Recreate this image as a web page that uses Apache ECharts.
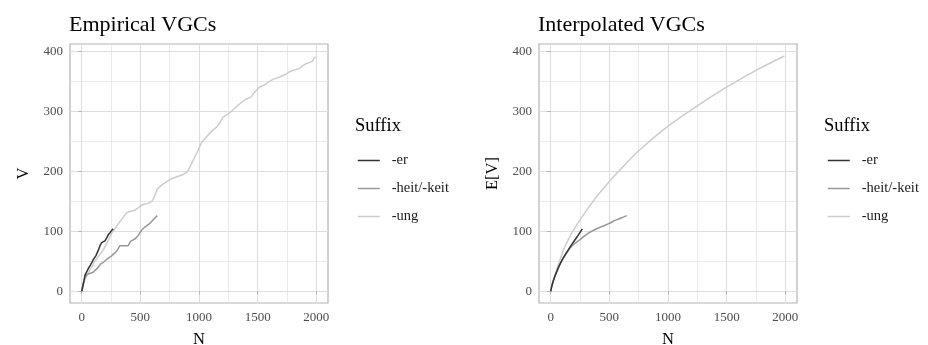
<!DOCTYPE html>
<html>
<head>
<meta charset="utf-8">
<script src="https://cdn.jsdelivr.net/npm/echarts@6/dist/echarts.min.js"></script>
<style>
	html, body { margin: 0; padding: 0; background: #fff; }
	#main { width: 928px; height: 345px; }
</style>
</head>
<body>
<div id="main"></div>
<script>
var suffixes = ['-er', '-heit/-keit', '-ung'];
var colors = ['#333333', '#989898', '#cccccc'];

// empirical growth curves [N, V]
var erEmpirical = [[0,0],[10,8],[20,18],[28,27],[40,30],[57,38],[75,44],[100,53],[120,59],[141,68],[158,77],[170,81],[184,82],[198,84],[213,89],[226,94],[243,98],[258,102],[269,104]];
var heitEmpirical = [[0,0],[15,15],[28,24],[45,28],[57,27],[75,30],[100,32],[120,36],[141,40],[159,45],[184,48],[212,53],[233,56],[255,59],[278,63],[298,67],[326,76],[350,76],[396,76],[416,83],[453,87],[482,93],[511,102],[538,107],[581,113],[609,119],[644,126]];
var ungEmpirical = [[0,0],[15,12],[28,20],[50,28],[71,36],[95,44],[113,50],[150,60],[184,69],[215,80],[241,91],[265,100],[290,106],[326,116],[356,124],[385,131],[410,133],[440,134],[470,137],[499,142],[530,145],[560,146],[600,150],[620,158],[642,169],[665,174],[690,178],[728,183],[771,188],[800,190],[830,192],[870,195],[900,199],[935,212],[960,222],[985,232],[1020,247],[1062,257],[1105,266],[1148,273],[1175,280],[1205,290],[1260,297],[1300,304],[1345,312],[1400,320],[1445,324],[1470,331],[1515,340],[1550,343],[1572,346],[1630,353],[1688,357],[1720,360],[1745,362],[1765,365],[1800,368],[1855,371],[1880,375],[1910,379],[1940,381],[1965,383],[1980,386],[1992,391]];

// interpolated expected vocabulary [N, E[V]]
var erInterpolated = [[0,0],[10,9],[25,19],[40,27],[65,39],[100,53],[140,66],[180,78],[222,90],[269,104]];
var heitInterpolated = [[0,0],[10,9],[23,18],[40,28],[65,40],[95,51],[122,60],[150,68],[179,75],[215,81],[250,86],[300,94],[349,100],[400,105],[463,110],[500,113],[548,118],[600,122],[648,126]];
var ungInterpolated = [[0,0],[10,10],[37,27],[80,53],[122,75],[179,97],[250,119],[321,139],[392,158],[500,183],[600,204],[750,234],[1000,275],[1250,309],[1500,340],[1750,368],[1992,392]];

var xMajor = [0, 500, 1000, 1500, 2000];
var xMinor = [250, 750, 1250, 1750];
var yMajor = [0, 100, 200, 300, 400];
var yMinor = [50, 150, 250, 350];

var font = 'Liberation Serif';
var xRange = [-100, 2100];
var yRange = [-19.6, 412];

function plain(v) { return String(v); }

function majorX(grid) {
	return {
		type: 'value', gridIndex: grid, min: xRange[0], max: xRange[1], position: 'bottom',
		name: 'N', nameLocation: 'middle', nameGap: 28,
		nameTextStyle: { fontFamily: font, fontSize: 16.5, color: '#000' },
		axisLine: { show: false },
		axisTick: { show: true, length: 3, customValues: xMajor, lineStyle: { color: '#b3b3b3', width: 1 } },
		axisLabel: { customValues: xMajor, margin: 8, formatter: plain, fontFamily: font, fontSize: 13, color: '#4d4d4d' },
		splitLine: { show: true, lineStyle: { color: '#dedede', width: 1.1 } }
	};
}
function minorX(grid) {
	return {
		type: 'value', gridIndex: grid, min: xRange[0], max: xRange[1], position: 'top',
		axisLine: { show: false }, axisLabel: { show: false },
		axisTick: { show: false, customValues: xMinor },
		splitLine: { show: true, lineStyle: { color: '#e3e3e3', width: 0.7 } }
	};
}
function majorY(grid, title) {
	return {
		type: 'value', gridIndex: grid, min: yRange[0], max: yRange[1], position: 'left',
		name: title, nameLocation: 'middle', nameGap: 38, nameRotate: 90,
		nameTextStyle: { fontFamily: font, fontSize: 16.5, color: '#000' },
		axisLine: { show: false },
		axisTick: { show: true, length: 3.5, customValues: yMajor, lineStyle: { color: '#b3b3b3', width: 1 } },
		axisLabel: { customValues: yMajor, margin: 7, formatter: plain, fontFamily: font, fontSize: 13, color: '#4d4d4d' },
		splitLine: { show: true, lineStyle: { color: '#dedede', width: 1.1 } }
	};
}
function minorY(grid) {
	return {
		type: 'value', gridIndex: grid, min: yRange[0], max: yRange[1], position: 'right',
		axisLine: { show: false }, axisLabel: { show: false },
		axisTick: { show: false, customValues: yMinor },
		splitLine: { show: true, lineStyle: { color: '#e3e3e3', width: 0.7 } }
	};
}

function curve(name, data, axis, idx, smooth) {
	return {
		name: name, type: 'line', data: data, xAxisIndex: axis, yAxisIndex: axis,
		symbol: 'none', smooth: smooth, silent: true, z: 5,
		lineStyle: { color: colors[idx], width: 1.5 },
		itemStyle: { color: colors[idx] }
	};
}

function legendAt(left) {
	return {
		left: left, top: 153, padding: 0, orient: 'vertical', data: suffixes,
		itemWidth: 22, itemHeight: 14, itemGap: 13, selectedMode: false,
		itemStyle: { opacity: 0 },
		lineStyle: { width: 1.5 },
		textStyle: { fontFamily: font, fontSize: 14.5, color: '#1a1a1a', padding: [0, 0, 0, 7] }
	};
}

function heading(text, left, top, size) {
	return { text: text, left: left, top: top, padding: 0,
		textStyle: { fontFamily: font, fontSize: size, fontWeight: 'normal', color: '#000' } };
}

function panel(left) {
	return { left: left, top: 44, width: 258, height: 259, outerBoundsMode: 'none',
		show: true, borderColor: '#b3b3b3', borderWidth: 1.2 };
}

var chart = echarts.init(document.getElementById('main'));
chart.setOption({
	animation: false,
	title: [
		heading('Empirical VGCs', 69, 14, 22),
		heading('Interpolated VGCs', 538, 14, 22),
		heading('Suffix', 355, 117, 18.5),
		heading('Suffix', 824, 117, 18.5)
	],
	legend: [legendAt(357), legendAt(827)],
	grid: [panel(70), panel(539)],
	xAxis: [majorX(0), minorX(0), majorX(1), minorX(1)],
	yAxis: [majorY(0, 'V'), minorY(0), majorY(1, 'E[V]'), minorY(1)],
	series: [
		curve('-ung', ungEmpirical, 0, 2, false),
		curve('-heit/-keit', heitEmpirical, 0, 1, false),
		curve('-er', erEmpirical, 0, 0, false),
		curve('-ung', ungInterpolated, 2, 2, 0.3),
		curve('-heit/-keit', heitInterpolated, 2, 1, 0.3),
		curve('-er', erInterpolated, 2, 0, 0.3)
	]
});
</script>
</body>
</html>
